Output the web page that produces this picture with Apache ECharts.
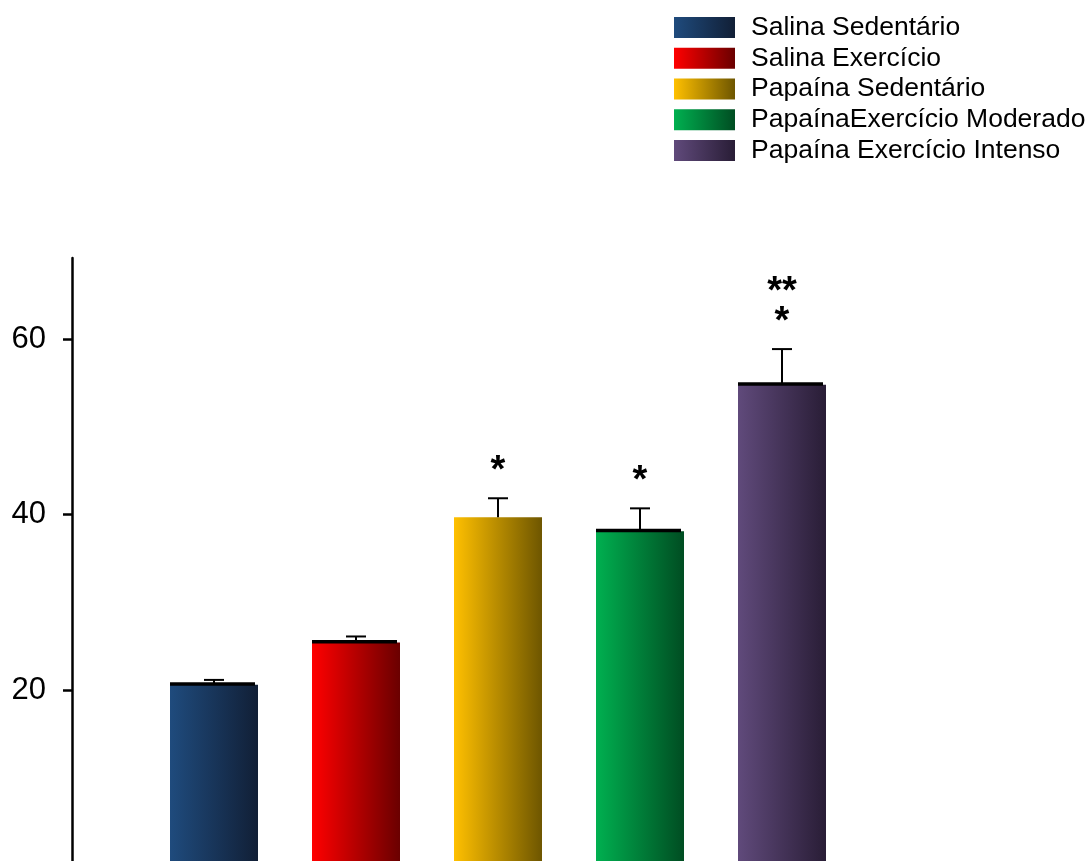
<!DOCTYPE html>
<html>
<head>
<meta charset="utf-8">
<script src="https://cdn.jsdelivr.net/npm/echarts@6/dist/echarts.min.js"></script>
<style>
html,body{margin:0;padding:0;background:#fff;}
#chart{width:1091px;height:861px;}
</style>
</head>
<body>
<div id="chart"></div>
<script>
// ---- data ----
const categories = ['Salina Sedentário', 'Salina Exercício', 'Papaína Sedentário', 'PapaínaExercício Moderado', 'Papaína Exercício Intenso'];
const means = [20.6, 25.4, 39.7, 38.1, 54.8];
const errors = [0.55, 0.7, 2.15, 2.6, 4.05];
const marks = ['', '', '*', '*', '**\n*'];
const yTickValues = [20, 40, 60];

// ---- styles ----
const gradLeft = ['#1f4b7d', '#ff0000', '#ffc000', '#00b050', '#604a7b'];
const gradRight = ['#111f36', '#6a0000', '#6e5600', '#004d22', '#291d36'];
const topLine = [true, true, false, true, true];
const FONT = '"Liberation Sans", Arial, Helvetica, sans-serif';

function grad(i) {
  return new echarts.graphic.LinearGradient(0, 0, 1, 0, [
    { offset: 0, color: gradLeft[i] },
    { offset: 1, color: gradRight[i] }
  ]);
}

const chart = echarts.init(document.getElementById('chart'), null, { renderer: 'canvas' });

const series = categories.map((name, i) => ({
  name: name,
  type: 'custom',
  itemStyle: { color: grad(i) },
  data: [[i + 1, means[i], errors[i], marks[i]]],
  renderItem: function (params, api) {
    const x = api.value(0), v = api.value(1), e = api.value(2);
    const base = api.coord([x, 0]);
    const top = api.coord([x, v]);
    const eTop = api.coord([x, v + e]);
    const hw = 44;
    const children = [
      {
        type: 'rect',
        shape: { x: top[0] - hw, y: top[1], width: hw * 2, height: base[1] - top[1] + 10 },
        style: { fill: grad(i) }
      },
      {
        type: 'line',
        shape: { x1: top[0], y1: top[1], x2: eTop[0], y2: eTop[1] },
        style: { stroke: '#000', lineWidth: 2 }
      },
      {
        type: 'line',
        shape: { x1: eTop[0] - 10, y1: eTop[1], x2: eTop[0] + 10, y2: eTop[1] },
        style: { stroke: '#000', lineWidth: 2 }
      }
    ];
    if (topLine[i]) {
      children.push({
        type: 'rect',
        shape: { x: top[0] - hw, y: top[1] - 2.5, width: hw * 2 - 3, height: 3.5 },
        style: { fill: '#000' }
      });
    }
    if (marks[i]) {
      children.push({
        type: 'text',
        style: {
          text: marks[i],
          x: eTop[0],
          y: eTop[1] - 12,
          align: 'center',
          verticalAlign: 'bottom',
          fontSize: 38,
          fontWeight: 'bold',
          lineHeight: 30,
          fontFamily: FONT,
          fill: '#000'
        }
      });
    }
    return { type: 'group', children: children };
  }
}));

chart.setOption({
  animation: false,
  backgroundColor: '#fff',
  textStyle: { fontFamily: FONT },
  legend: {
    orient: 'vertical',
    left: 674,
    top: 14,
    padding: 0,
    itemWidth: 61,
    itemHeight: 21,
    itemGap: 3.75,
    icon: 'rect',
    selectedMode: false,
    data: categories,
    textStyle: {
      fontSize: 26.5,
      color: '#000',
      fontFamily: FONT,
      lineHeight: 21,
      padding: [3, 0, 0, 11]
    }
  },
  grid: { left: 72, right: 167, top: 258, bottom: 0, containLabel: false },
  xAxis: {
    type: 'value',
    min: 0,
    max: 6,
    show: false
  },
  yAxis: {
    type: 'value',
    min: 0.513,
    max: 69.23,
    splitLine: { show: false },
    axisLine: { show: true, lineStyle: { color: '#000', width: 2.5 } },
    axisTick: { show: true, inside: false, length: 9, lineStyle: { color: '#000', width: 2.5 }, customValues: yTickValues },
    axisLabel: { show: true, customValues: yTickValues, fontSize: 31, color: '#000', margin: 26, fontFamily: FONT }
  },
  series: series
});
</script>
</body>
</html>
